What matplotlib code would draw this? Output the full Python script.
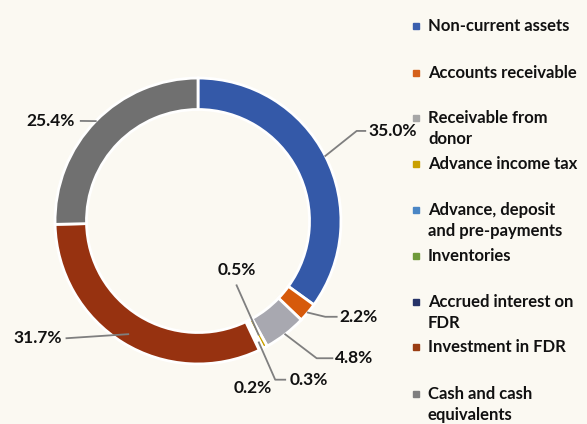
import matplotlib.pyplot as plt
import numpy as np

plt.rcParams['font.family'] = ['Lato', 'DejaVu Sans']

categories = ['Non-current assets', 'Accounts receivable', 'Receivable from\ndonor',
              'Advance income tax', 'Advance, deposit\nand pre-payments', 'Inventories',
              'Accrued interest on\nFDR', 'Investment in FDR', 'Cash and cash\nequivalents']
values = [35.0, 2.2, 4.8, 0.5, 0.3, 0.0, 0.2, 31.7, 25.4]
labels = ['35.0%', '2.2%', '4.8%', '0.5%', '0.3%', '', '0.2%', '31.7%', '25.4%']
colors = ['#3459A8', '#D65A0C', '#A8A8B0', '#C9A000', '#4A86C5', '#6E9A3A',
          '#263368', '#973210', '#707070']
legend_colors = ['#3A5FAE', '#D4601A', '#A6A6A6', '#C9A000', '#4A86C5', '#6E9A3A',
                 '#263368', '#9A3D12', '#7F7F7F']

bg = '#FBF9F2'
fig = plt.figure(figsize=(5.87, 4.24), dpi=100, facecolor=bg)
ax = fig.add_axes([5 / 587, 10 / 424, 386 / 587, 386 / 424])
ax.set_facecolor(bg)

wedges, _ = ax.pie(values, colors=colors, startangle=90, counterclock=False,
                   radius=1.0, wedgeprops=dict(width=0.22, edgecolor='white', linewidth=2))
ax.set_xlim(-1.35, 1.35)
ax.set_ylim(-1.35, 1.35)
ax.set_aspect('equal')
ax.axis('off')

# leader line layout per label: (start radius, elbow, line end, text pos, ha)
layout = {
    0: (1.0, (1.11, 0.63), (1.17, 0.63), (1.19, 0.63), 'left'),
    1: (1.0, (0.89, -0.67), (0.97, -0.67), (0.99, -0.67), 'left'),
    2: (1.0, (0.83, -0.96), (0.94, -0.96), (0.96, -0.96), 'left'),
    3: (0.9, (0.27, -0.45), None, (0.27, -0.34), 'center'),
    4: (0.95, (0.54, -1.11), (0.61, -1.11), (0.64, -1.11), 'left'),
    6: (None, None, None, (0.38, -1.17), 'center'),
    7: (0.93, (-0.92, -0.82), (-0.92, -0.82), (-0.95, -0.82), 'right'),
    8: (1.0, (-0.82, 0.70), (-0.82, 0.70), (-0.86, 0.70), 'right'),
}
line_col = '#7F7F7F'
for i, (r0, elbow, end, tpos, ha) in layout.items():
    w = wedges[i]
    ang = np.deg2rad((w.theta1 + w.theta2) / 2)
    if r0 is not None:
        pts = [(r0 * np.cos(ang), r0 * np.sin(ang)), elbow]
        if end is not None:
            pts.append(end)
        xs, ys = zip(*pts)
        ax.plot(xs, ys, color=line_col, lw=1.3, clip_on=False)
    ax.text(tpos[0], tpos[1], labels[i], ha=ha, va='center', fontsize=12.5,
            fontweight='bold', color='#111111', clip_on=False)

# legend
ys = [26, 73, 118, 164, 210, 256, 302, 347, 394]
for cat, col, y in zip(categories, legend_colors, ys):
    fig.patches.append(plt.Rectangle((413 / 587, 1 - (y + 3) / 424), 6 / 587, 6 / 424,
                                     transform=fig.transFigure, color=col))
    fig.text(428 / 587, 1 - (y - 8) / 424, cat, ha='left', va='top', fontsize=12,
             fontweight='bold', color='#111111', linespacing=1.4)

fig.savefig('out.png', dpi=100, facecolor=bg)
